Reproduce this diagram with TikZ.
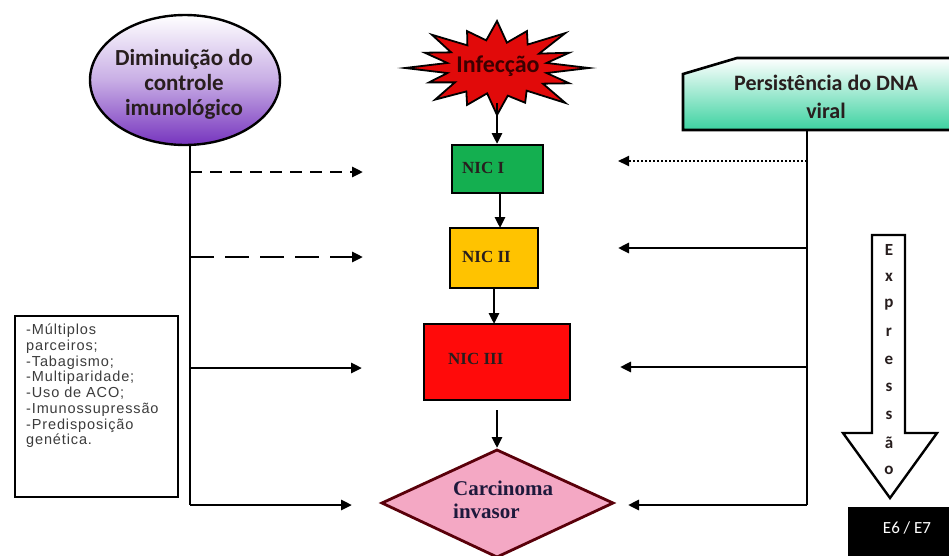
\documentclass[tikz,border=0pt]{standalone}
\usepackage{fontspec}
\setmainfont{Liberation Serif}
\newfontfamily\calfont{Carlito}
\newfontfamily\arlfont[LetterSpace=6]{Liberation Sans}
\usetikzlibrary{arrows.meta,shapes.geometric}
\definecolor{purp}{RGB}{118,52,190}
\definecolor{mint}{RGB}{60,210,160}
\definecolor{starred}{RGB}{225,10,10}
\definecolor{nicgreen}{RGB}{20,175,80}
\definecolor{nicyellow}{RGB}{255,195,0}
\definecolor{nicred}{RGB}{255,10,10}
\definecolor{carpink}{RGB}{244,168,196}
\definecolor{carborder}{RGB}{90,0,10}
\definecolor{darktxt}{RGB}{40,30,30}
\begin{document}
\begin{tikzpicture}[x=1pt,y=-1pt,
  conn/.style={line width=2.8pt,black},
  arr/.style={conn,-{Triangle[length=11pt,width=10pt]}},
  nicbox/.style={draw=black,line width=2pt,inner sep=0pt},
  nictext/.style={font=\bfseries\fontsize{17}{19}\selectfont,text=darktxt,inner sep=0pt},
  lbl/.style={font=\calfont\bfseries\fontsize{22}{28}\selectfont,text=darktxt,align=center,inner sep=0pt},
  letter/.style={font=\calfont\bfseries\fontsize{17}{18}\selectfont,text=darktxt,inner sep=0pt}]
\clip (0,0) rectangle (949,555);
\fill[white] (0,0) rectangle (949,555);

% ellipse
\node[draw=black,line width=2.4pt,ellipse,minimum width=190pt,minimum height=130pt,
      top color=white,bottom color=purp,middle color={purp!40!white}] (dim) at (185,80) {};
\node[lbl,font=\calfont\bfseries\fontsize{23}{25}\selectfont] (dimtxt) at (184,84) {Diminuição do\\controle\\imunológico};

% starburst
\filldraw[fill=starred,draw=black,line width=1.8pt]
  (589,68) \foreach \a/\m in {11.25/0.55,22.5/0.85,33.75/0.6,45/1.05,56.25/0.58,67.5/0.8,78.75/0.6,90/1.0,101.25/0.55,112.5/0.85,123.75/0.6,135/0.95,146.25/0.55,157.5/0.8,168.75/0.55,180/1.0,191.25/0.55,202.5/0.85,213.75/0.6,225/1.0,236.25/0.58,247.5/0.85,258.75/0.6,270/1.0,281.25/0.55,292.5/0.85,303.75/0.6,315/1.05,326.25/0.55,337.5/0.85,348.75/0.55}
  { -- ({497+92*\m*cos(\a)},{68+47*\m*sin(\a)}) } -- cycle;
\node[lbl,font=\calfont\bfseries\fontsize{24}{26}\selectfont,text={rgb,255:red,60;green,0;blue,0}] (inf) at (498,66) {Infecção};

% pentagon
\shade[top color=white,bottom color=mint,draw=black,line width=2.6pt]
  (683,74) -- (737,58) -- (975,58) -- (975,130) -- (683,130) -- cycle;
\node[lbl] (pers) at (826,97) {Persistência do DNA\\viral};
\coordinate (persb) at (807,130);

% NIC boxes
\node[nicbox,fill=nicgreen,minimum width=91pt,minimum height=48pt] (nic1) at (497,169) {};
\node[nictext,anchor=west] (nic1t) at (462,168) {NIC I};
\node[nicbox,fill=nicyellow,minimum width=88pt,minimum height=60pt] (nic2) at (494,258) {};
\node[nictext,anchor=west] (nic2t) at (462,257) {NIC II};
\node[nicbox,fill=nicred,minimum width=146pt,minimum height=76pt] (nic3) at (497,362) {};
\node[nictext,anchor=west] (nic3t) at (448,359) {NIC III};

% diamond
\filldraw[fill=carpink,draw=carborder,line width=2.8pt] (382,503) -- (497,450) -- (613,503) -- (497,557) -- cycle;
\coordinate (cartop) at (497,448);
\node[font=\bfseries\fontsize{21}{23}\selectfont,text={rgb,255:red,30;green,25;blue,60},align=left,anchor=west,inner sep=0pt] (car) at (453,500) {Carcinoma\\invasor};

% vertical arrows
\coordinate (infb) at (497,103);
\draw[arr] (infb) -- (nic1.north);
\draw[arr] (500,193) -- (500,228);
\draw[arr] (494,288) -- (494,324);
\draw[arr] (497,410) -- (cartop);

% left side
\coordinate (lv0) at (190,145);
\coordinate (lv1) at (190,172);
\coordinate (lv2) at (190,257);
\coordinate (lv3) at (190,368);
\coordinate (lv4) at (190,505);
\draw[conn] (lv0) -- (lv4);
\coordinate (la1) at (363,172);
\coordinate (la2) at (363,257);
\coordinate (la3) at (362,368);
\coordinate (la4) at (352,505);
\draw[arr,dash pattern=on 12pt off 8pt] (lv1) -- (la1);
\draw[arr,dash pattern=on 24pt off 11pt] (lv2) -- (la2);
\draw[arr] (lv3) -- (la3);
\draw[arr] (lv4) -- (la4);

% left box
\node[draw=black,line width=2.4pt,minimum width=163pt,minimum height=181pt,inner sep=0pt] (lbox) at (96.5,406.5) {};
\node[anchor=north west,align=left,inner sep=0pt,text={rgb,255:red,60;green,60;blue,60},
      font=\arlfont\fontsize{14.5}{15.7}\selectfont] (ltxt) at (26,324)
  {-Múltiplos\\parceiros;\\-Tabagismo;\\-Multiparidade;\\-Uso de ACO;\\-Imunossupressão\\-Predisposição\\genética.};

% right side
\coordinate (rv1) at (807,161);
\coordinate (rv2) at (807,248);
\coordinate (rv3) at (807,367);
\coordinate (rv4) at (807,505);
\draw[conn] (persb) -- (rv4);
\coordinate (ra1) at (618,161);
\coordinate (ra2) at (618,248);
\coordinate (ra3) at (620,367);
\coordinate (ra4) at (628,505);
\draw[arr,line width=2pt,dash pattern=on 2pt off 2pt] (rv1) -- (ra1);
\draw[arr] (rv2) -- (ra2);
\draw[arr] (rv3) -- (ra3);
\draw[arr] (rv4) -- (ra4);

% block arrow
\filldraw[fill=white,draw=black,line width=2.4pt]
  (872,235) -- (905,235) -- (905,433) -- (937,433) -- (890,498) -- (843,433) -- (872,433) -- cycle;
\foreach \ch [count=\i] in {E,x,p,r,e,s,s,ã,o}
  \node[letter] (L\i) at (889,{250+27.5*(\i-1)}) {\ch};

% E6/E7
\fill[black] (848,507) rectangle (966,560);
\node[font=\calfont\fontsize{17}{19}\selectfont,text=white,inner sep=0pt] (e6) at (907,528) {E6 / E7};
\end{tikzpicture}
\end{document}
